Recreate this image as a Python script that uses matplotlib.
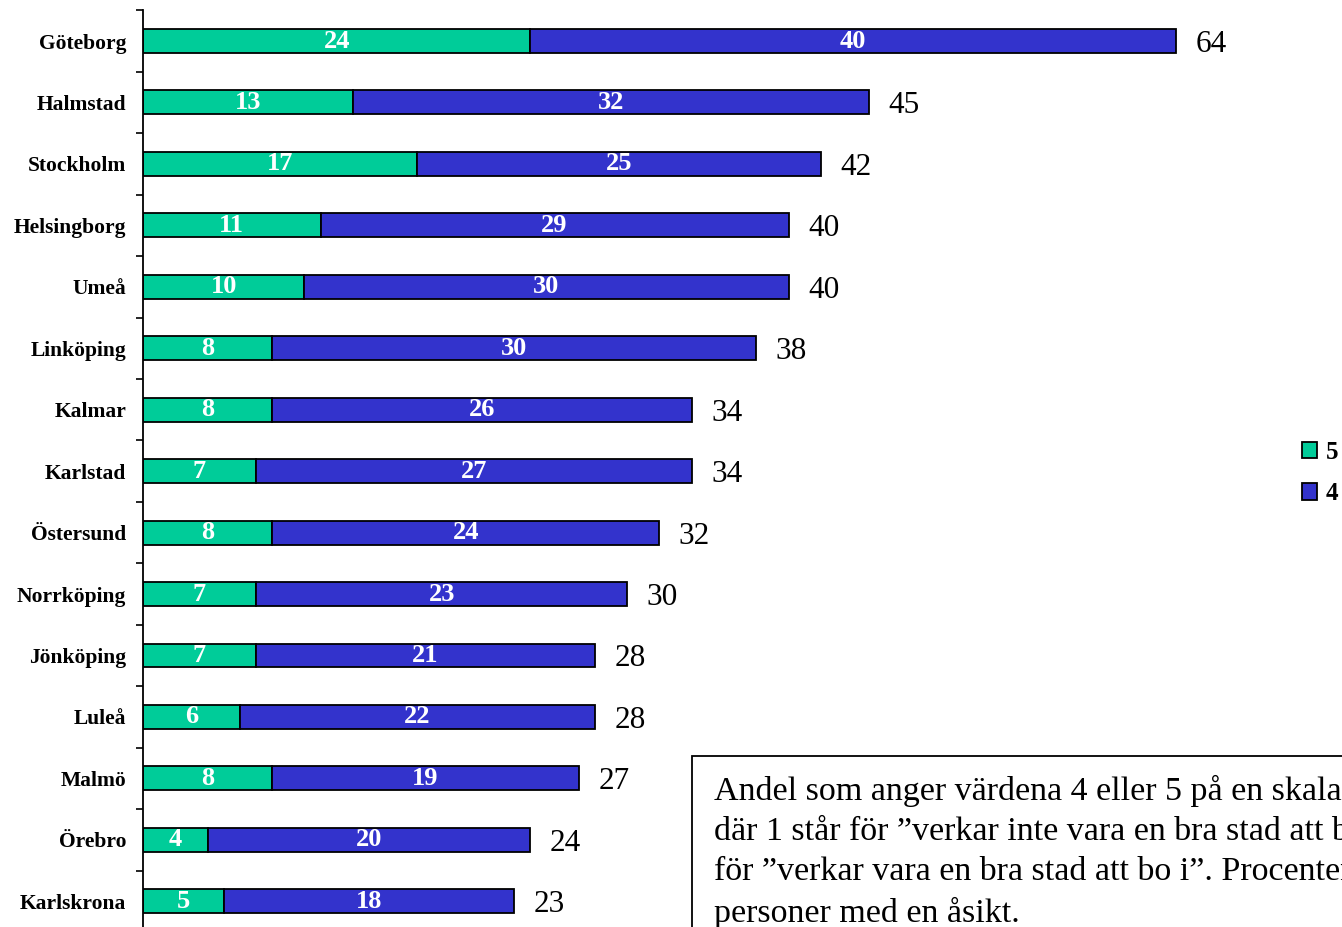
import matplotlib
matplotlib.use('Agg')
import matplotlib.pyplot as plt
from matplotlib.patches import Rectangle

# data
cities = ['Göteborg', 'Halmstad', 'Stockholm', 'Helsingborg', 'Umeå', 'Linköping',
          'Kalmar', 'Karlstad', 'Östersund', 'Norrköping', 'Jönköping', 'Luleå',
          'Malmö', 'Örebro', 'Karlskrona']
val5 = [24, 13, 17, 11, 10, 8, 8, 7, 8, 7, 7, 6, 8, 4, 5]
val4 = [40, 32, 25, 29, 30, 30, 26, 27, 24, 23, 21, 22, 19, 20, 18]
totals = [64, 45, 42, 40, 40, 38, 34, 34, 32, 30, 28, 28, 27, 24, 23]

green = '#00CC99'
blue = '#3333CC'

plt.rcParams['font.family'] = ['Liberation Serif', 'DejaVu Serif']

fig = plt.figure(figsize=(13.42, 9.27), dpi=100)
ax = fig.add_axes([143 / 1342, -0.0054, 1147 / 1342, 0.9943])

y = list(range(len(cities)))
ax.barh(y, val5, height=0.39, color=green, edgecolor='black', linewidth=1.3, label='5')
ax.barh(y, val4, left=val5, height=0.39, color=blue, edgecolor='black', linewidth=1.3, label='4')

# value labels inside the segments + totals
for i in y:
    ax.text(val5[i] / 2, i, str(val5[i]), ha='center', va='center',
            color='white', fontsize=19, fontweight='bold')
    ax.text(val5[i] + val4[i] / 2, i, str(val4[i]), ha='center', va='center',
            color='white', fontsize=19, fontweight='bold')
    ax.annotate(str(totals[i]), (val5[i] + val4[i], i), xytext=(14, 0),
                textcoords='offset points', ha='left', va='center_baseline',
                fontsize=22.5)

ax.set_xlim(0, 71.07)
ax.set_ylim(len(cities) - 0.5, -0.5)
ax.set_yticks(y)
ax.set_yticklabels(cities, fontsize=15.5, fontweight='bold')
ax.set_yticks([i - 0.5 for i in range(len(cities) + 1)], minor=True)
ax.tick_params(axis='y', which='major', length=0, pad=12)
ax.tick_params(axis='y', which='minor', length=5, width=1.2, direction='out')
ax.set_xticks([])
for s in ['top', 'right', 'bottom']:
    ax.spines[s].set_visible(False)
ax.spines['left'].set_linewidth(1.3)

fig.legend(loc='center left', bbox_to_anchor=(1284 / 1342, 1 - 473 / 927),
           frameon=False, prop={'weight': 'bold', 'size': 18},
           handlelength=0.62, handleheight=0.62, handletextpad=0.35,
           labelspacing=0.75, borderpad=0.2)

# note box, partly outside the figure like the original
fig.patches.append(Rectangle((692 / 1342, -0.1), 0.6, 0.1 + 1 - 756 / 927,
                             transform=fig.transFigure, fill=False,
                             edgecolor='black', linewidth=1.3))
note = ('Andel som anger värdena 4 eller 5 på en skala från 1 till 5,\n'
        'där 1 står för ”verkar inte vara en bra stad att bo i” och 5 står\n'
        'för ”verkar vara en bra stad att bo i”. Procenten är beräknade bland\n'
        'personer med en åsikt.')
fig.text(714 / 1342, 1 - 775 / 927, note, ha='left', va='top', fontsize=24.5,
         linespacing=1.4)

fig.savefig('out.png', dpi=100)
